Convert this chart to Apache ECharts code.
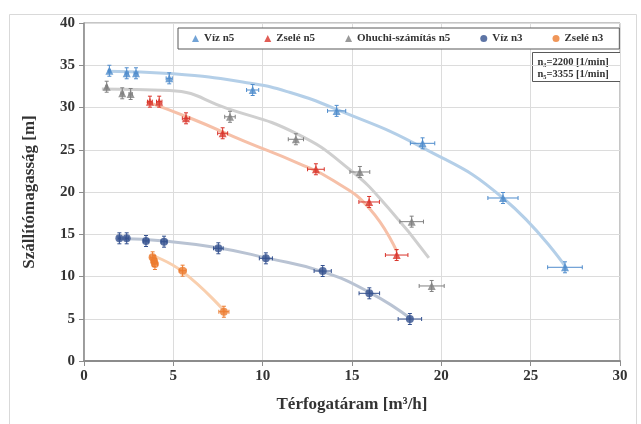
<!DOCTYPE html>
<html>
<head>
<meta charset="utf-8">
<script src="https://cdn.jsdelivr.net/npm/echarts@6/dist/echarts.min.js"></script>
<style>
  html, body { margin: 0; padding: 0; background: #fff; }
  #chart { width: 641px; height: 424px; }
</style>
</head>
<body>
<div id="chart"></div>
<script>
// measured points (Q [m3/h], H [m])
const vizN5X = [1.42, 2.39, 2.91, 4.77, 9.44, 14.14, 18.95, 23.45, 26.92]
const vizN5Y = [34.35, 34.05, 34.05, 33.45, 32.07, 29.6, 25.76, 19.29, 11.09]

const zseleN5X = [3.69, 4.21, 5.71, 7.76, 12.98, 15.96, 17.5]
const zseleN5Y = [30.69, 30.69, 28.72, 26.95, 22.69, 18.82, 12.54]

const ohuchiN5X = [1.27, 2.14, 2.61, 8.17, 11.86, 15.44, 18.34, 19.46]
const ohuchiN5Y = [32.46, 31.68, 31.6, 28.9, 26.24, 22.37, 16.49, 8.88]

const vizN3X = [1.98, 2.39, 3.47, 4.48, 7.52, 10.18, 13.36, 15.97, 18.24]
const vizN3Y = [14.52, 14.52, 14.2, 14.12, 13.34, 12.15, 10.65, 8.01, 4.97]

const zseleN3X = [3.84, 3.92, 3.97, 5.52, 7.83]
const zseleN3Y = [12.27, 11.83, 11.48, 10.69, 5.83]

// trend lines
const vizN5TrendX = [1.3, 5, 9.5, 11.5, 14, 19, 23.5, 27]
const vizN5TrendY = [34.3, 34.0, 32.8, 31.8, 29.9, 25.2, 19.2, 11.0]
const zseleN5TrendX = [3.5, 6, 9, 12, 14, 16, 17.5]
const zseleN5TrendY = [30.7, 28.7, 26.0, 23.4, 21.3, 18.0, 13.0]
const ohuchiN5TrendX = [1.0, 4.8, 8, 11.9, 14.9, 17, 19.3]
const ohuchiN5TrendY = [32.2, 32.0, 29.9, 26.9, 22.6, 18.2, 12.2]
const vizN3TrendX = [2, 4.5, 7.5, 10.2, 13.3, 16, 18.3]
const vizN3TrendY = [14.5, 14.2, 13.4, 12.2, 10.6, 8.1, 5.0]
const zseleN3TrendX = [3.8, 5.5, 7.9]
const zseleN3TrendY = [12.5, 10.6, 5.8]

const xTicks = [0, 5, 10, 15, 20, 25, 30]
const yTicks = [0, 5, 10, 15, 20, 25, 30, 35, 40]

// error bars: percent of Q horizontally, fixed value vertically
const X_ERR_PCT = 0.036
const Y_ERR = 0.65

const FONT = 'Liberation Serif'

const SERIES = [
  { name: 'Víz n5', x: vizN5X, y: vizN5Y, tx: vizN5TrendX, ty: vizN5TrendY, symbol: 'triangle', color: '#4f8ccc', trend: '#b4cfe8' },
  { name: 'Zselé n5', x: zseleN5X, y: zseleN5Y, tx: zseleN5TrendX, ty: zseleN5TrendY, symbol: 'triangle', color: '#d9342b', trend: '#f6c0a8' },
  { name: 'Ohuchi-számítás n5', x: ohuchiN5X, y: ohuchiN5Y, tx: ohuchiN5TrendX, ty: ohuchiN5TrendY, symbol: 'triangle', color: '#808080', trend: '#cfcfcf' },
  { name: 'Víz n3', x: vizN3X, y: vizN3Y, tx: vizN3TrendX, ty: vizN3TrendY, symbol: 'circle', color: '#34518f', trend: '#b9c3d3' },
  { name: 'Zselé n3', x: zseleN3X, y: zseleN3Y, tx: zseleN3TrendX, ty: zseleN3TrendY, symbol: 'circle', color: '#ec7c30', trend: '#f9cfae' }
]

const zip = (a, b) => a.map((v, i) => [v, b[i]])

const errorBars = (s) => ({
  type: 'custom',
  name: s.name + ' hiba',
  z: 3,
  silent: true,
  data: zip(s.x, s.y),
  renderItem: (params, api) => {
    const x = api.value(0)
    const y = api.value(1)
    const dx = x * X_ERR_PCT
    const l = api.coord([x - dx, y])
    const r = api.coord([x + dx, y])
    const t = api.coord([x, y + Y_ERR])
    const b = api.coord([x, y - Y_ERR])
    const style = { stroke: s.color, lineWidth: 1 }
    return {
      type: 'group',
      children: [
        { type: 'line', shape: { x1: l[0], y1: l[1], x2: r[0], y2: r[1] }, style },
        { type: 'line', shape: { x1: l[0], y1: l[1] - 2, x2: l[0], y2: l[1] + 2 }, style },
        { type: 'line', shape: { x1: r[0], y1: r[1] - 2, x2: r[0], y2: r[1] + 2 }, style },
        { type: 'line', shape: { x1: t[0], y1: t[1], x2: b[0], y2: b[1] }, style },
        { type: 'line', shape: { x1: t[0] - 2, y1: t[1], x2: t[0] + 2, y2: t[1] }, style },
        { type: 'line', shape: { x1: b[0] - 2, y1: b[1], x2: b[0] + 2, y2: b[1] }, style }
      ]
    }
  }
})

const series = []
SERIES.forEach(s => {
  series.push({
    type: 'line',
    name: s.name + ' trend',
    data: zip(s.tx, s.ty),
    smooth: 0.5,
    showSymbol: false,
    silent: true,
    z: 1,
    lineStyle: { color: s.trend, width: 3 }
  })
})
SERIES.forEach(s => {
  series.push(errorBars(s))
  series.push({
    type: 'scatter',
    name: s.name,
    data: zip(s.x, s.y),
    symbol: s.symbol,
    symbolSize: 8,
    z: 4,
    itemStyle: { color: s.color }
  })
})

const chart = echarts.init(document.getElementById('chart'))

chart.setOption({
  animation: false,
  backgroundColor: '#fff',
  grid: {
    left: 84, right: 21, top: 23, bottom: 63,
    show: true, borderColor: '#8c8c8c', borderWidth: 1
  },
  legend: {
    data: SERIES.map(s => ({ name: s.name, icon: s.symbol })),
    left: 178, top: 28,
    padding: [5, 16, 5, 14],
    itemGap: 30,
    itemWidth: 7, itemHeight: 7,
    borderColor: '#595959', borderWidth: 1,
    backgroundColor: '#fff',
    textStyle: { fontFamily: FONT, fontWeight: 'bold', fontSize: 11, color: '#333' }
  },
  xAxis: {
    type: 'value',
    min: xTicks[0], max: xTicks[xTicks.length - 1], interval: 5,
    name: 'Térfogatáram [m³/h]',
    nameLocation: 'middle', nameGap: 35,
    nameTextStyle: { fontFamily: FONT, fontWeight: 'bold', fontSize: 17, color: '#333' },
    axisLine: { show: true, onZero: false, lineStyle: { color: '#8c8c8c', width: 2 } },
    axisTick: { show: true, length: 5, lineStyle: { color: '#8c8c8c' } },
    axisLabel: { fontFamily: FONT, fontWeight: 'bold', fontSize: 15, color: '#333', margin: 8 },
    splitLine: { show: true, lineStyle: { color: '#dcdcdc' } }
  },
  yAxis: {
    type: 'value',
    min: yTicks[0], max: yTicks[yTicks.length - 1], interval: 5,
    name: 'Szállítómagasság [m]',
    nameLocation: 'middle', nameGap: 46,
    nameTextStyle: { fontFamily: FONT, fontWeight: 'bold', fontSize: 17, color: '#333' },
    axisLine: { show: true, onZero: false, lineStyle: { color: '#8c8c8c', width: 1.5 } },
    axisTick: { show: true, length: 5, lineStyle: { color: '#8c8c8c' } },
    axisLabel: { fontFamily: FONT, fontWeight: 'bold', fontSize: 15, color: '#333', margin: 9 },
    splitLine: { show: true, lineStyle: { color: '#dcdcdc' } }
  },
  graphic: [
    {
      type: 'rect', left: 7, top: 12, silent: true,
      shape: { width: 627, height: 420 },
      style: { fill: 'none', stroke: '#d9d9d9', lineWidth: 1 }
    },
    {
      type: 'group', left: 532, top: 52,
      children: [
        { type: 'rect', shape: { x: 0, y: 0, width: 88, height: 29 }, style: { fill: '#fff', stroke: '#595959', lineWidth: 1 } },
        { type: 'text', x: 5, y: 4, style: { text: 'n₃=2200 [1/min]', font: 'bold 10.5px "Liberation Serif"', fill: '#333' } },
        { type: 'text', x: 5, y: 16, style: { text: 'n₅=3355 [1/min]', font: 'bold 10.5px "Liberation Serif"', fill: '#333' } }
      ]
    }
  ],
  series
})
</script>
</body>
</html>
